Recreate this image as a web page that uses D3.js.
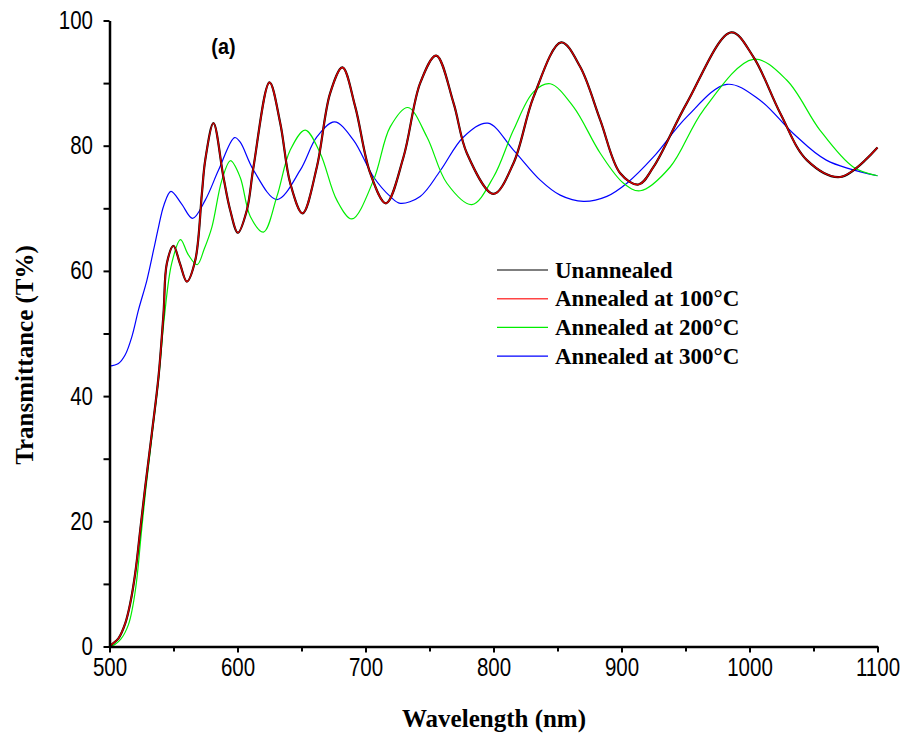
<!DOCTYPE html>
<html>
<head>
<meta charset="utf-8">
<script src="https://cdnjs.cloudflare.com/ajax/libs/d3/7.8.5/d3.min.js"></script>
<style>
    body { margin: 0; background: #fff; }
    svg { display: block; }
</style>
</head>
<body>
<svg width="911" height="737"></svg>
<script>
// readings: wavelength (nm) and transmittance (%)
const wl100 = [500, 501.9, 507, 512.3, 516.2, 520.1, 524, 527.9, 533.1, 538.3, 542.2, 544.8, 550, 555, 560.4, 567, 572.2, 574.8, 581.2, 589, 594.3, 600.3, 607.3, 612.5, 625, 633.4, 641.2, 650.8, 662, 672.4, 682, 692, 703.7, 716, 729.7, 742.7, 755.2, 768.8, 779.2, 800, 815.6, 831.3, 852.9, 867.7, 883.4, 899, 913.3, 925, 951, 985.7, 1003, 1024, 1044.8, 1070.8, 1100];
const t100 = [0, 0.35, 1.3, 3.7, 6.9, 11.7, 18.6, 25.5, 34.1, 43.1, 53.2, 61.2, 64, 61.2, 58.3, 61.7, 72.4, 77.7, 83.6, 75, 69.7, 66.1, 69.7, 76.6, 90.1, 83.6, 74, 69.2, 76.6, 88.4, 92.5, 86.2, 75.6, 70.8, 78.2, 90, 94.4, 86.8, 78.8, 72.3, 77.2, 87.8, 96.5, 92.6, 84.1, 75.6, 73.8, 76.6, 86.8, 98.1, 94.2, 85.2, 77.7, 75, 79.7];
// the unannealed film reads the same as the 100 °C one (hidden under the red trace)
const wlUn = wl100;
const tUn = t100;
const wl200 = [500, 504, 509, 514.8, 518, 521.2, 524.6, 528.3, 533.4, 538.5, 542.8, 548.6, 555.5, 561.5, 568.5, 574, 580, 587.8, 594.5, 602, 610, 620.3, 630.8, 641.2, 652.9, 664.6, 677.6, 689.4, 706.3, 719.3, 733.1, 748, 763.6, 783.1, 800, 815.6, 831.3, 844.3, 862.5, 883.4, 901.6, 914.6, 938, 964, 1003, 1029, 1055, 1081, 1100];
const t200 = [0, 0.3, 1.2, 3.5, 6.2, 10.5, 17.6, 25, 34, 43, 52.5, 61.2, 65, 62.6, 61, 63.5, 67, 74.5, 77.6, 75, 68.7, 66.2, 71.9, 79.3, 82.5, 78.8, 71.3, 68.3, 74.5, 83, 86.1, 81.4, 74, 70.6, 75, 82.5, 88.6, 89.9, 86.2, 78.8, 74, 72.8, 76.6, 85.7, 93.8, 90.5, 82.5, 76.6, 75.2];
const wl300 = [500, 507, 512.3, 517.5, 522.7, 529.2, 534.4, 538.3, 542.5, 548, 556, 564.9, 574.8, 585.2, 597.7, 602, 612.5, 630.8, 649, 662, 675.8, 690.6, 706.3, 719.3, 727.1, 742.7, 758.4, 776.6, 795.6, 815.6, 836.5, 852.1, 870.3, 888.6, 904.2, 925, 951, 982.3, 1008, 1034, 1060, 1100];
const t300 = [44.8, 45.2, 46.6, 49.5, 53.8, 58.5, 63.3, 67, 70.5, 72.7, 70.8, 68.4, 71.3, 76.1, 81.3, 80.6, 76.1, 71.4, 76.1, 81.4, 83.8, 80.9, 75, 71.9, 70.8, 71.9, 76, 81.4, 83.6, 79.3, 74.5, 72.1, 71.1, 71.9, 74, 78.2, 84.6, 89.8, 87.3, 82, 77.7, 75.2];

const seriesNames = ["Unannealed", "Annealed at 100\u00b0C", "Annealed at 200\u00b0C", "Annealed at 300\u00b0C"];
const xTicks = [500, 600, 700, 800, 900, 1000, 1100];
const yTicks = [0, 20, 40, 60, 80, 100];

const svg = d3.select("svg"),
    margin = {top: 20.5, left: 109.5},
    width = 768,
    height = 626,
    g = svg.append("g").attr("transform", `translate(${margin.left},${margin.top})`);

const x = d3.scaleLinear().domain([500, 1100]).range([0, width]),
    y = d3.scaleLinear().domain([0, 100]).range([height, 0]);

const zip = (a, b) => a.map((v, i) => [v, b[i]]);
const series = [
    {data: zip(wlUn, tUn), color: "#000", w: 2.2, legend: "#555"},
    {data: zip(wl100, t100), color: "#d40000", w: 1.4, legend: "#ff4444"},
    {data: zip(wl200, t200), color: "#00ee00", w: 1.2, legend: "#00ee00"},
    {data: zip(wl300, t300), color: "#0000ff", w: 1.2, legend: "#0000ff"}
];

const line = d3.line().x((d) => x(d[0])).y((d) => y(d[1])).curve(d3.curveCatmullRom.alpha(0.5));

// draw order: blue and green below, black then red on top
[3, 2, 0, 1].forEach((i) => {
    g.append("path")
        .datum(series[i].data)
        .attr("fill", "none")
        .attr("stroke", series[i].color)
        .attr("stroke-width", series[i].w)
        .attr("stroke-linejoin", "round")
        .attr("d", line);
});

// minor ticks
g.append("g")
    .attr("transform", `translate(0,${height})`)
    .call(d3.axisBottom(x).tickValues(d3.range(550, 1100, 100)).tickSize(5).tickFormat(""))
    .call((a) => a.select(".domain").remove());
g.append("g")
    .call(d3.axisLeft(y).tickValues(d3.range(10, 100, 20)).tickSize(6).tickFormat(""))
    .call((a) => a.select(".domain").remove());

const xAxis = g.append("g")
    .attr("transform", `translate(0,${height})`)
    .call(d3.axisBottom(x).tickValues(xTicks).tickFormat(d3.format("d")).tickSize(6).tickSizeOuter(0).tickPadding(6));
const yAxis = g.append("g")
    .call(d3.axisLeft(y).tickValues(yTicks).tickFormat(d3.format("d")).tickSize(6).tickSizeOuter(0));

svg.selectAll(".tick line").attr("stroke", "#000").attr("stroke-width", 2);
svg.selectAll(".domain").attr("stroke", "#000").attr("stroke-width", 2.5);
// tick labels in the original are narrow and tall
const squeeze = 0.82;
svg.selectAll(".tick text")
    .attr("font-family", "'Liberation Sans', Arial, sans-serif")
    .attr("font-size", 25)
    .attr("fill", "#000")
    .attr("transform", `scale(${squeeze},1)`);
yAxis.selectAll(".tick text").attr("x", -16.5 / squeeze);

g.append("text")
    .attr("x", 102)
    .attr("y", 34)
    .attr("transform", "translate(10,0) scale(0.9,1)")
    .attr("font-family", "'Liberation Sans', Arial, sans-serif")
    .attr("font-weight", "bold")
    .attr("font-size", 22)
    .text("(a)");

svg.append("text")
    .attr("x", 494)
    .attr("y", 727)
    .attr("text-anchor", "middle")
    .attr("font-family", "'Liberation Serif', 'Times New Roman', serif")
    .attr("font-weight", "bold")
    .attr("font-size", 25)
    .text("Wavelength (nm)");

svg.append("text")
    .attr("transform", "translate(33,355) rotate(-90)")
    .attr("text-anchor", "middle")
    .attr("font-family", "'Liberation Serif', 'Times New Roman', serif")
    .attr("font-weight", "bold")
    .attr("font-size", 25)
    .text("Transmittance (T%)");

const legend = svg.append("g").attr("transform", "translate(497,270)");
seriesNames.forEach((name, i) => {
    const row = legend.append("g").attr("transform", `translate(0,${i * 28.7})`);
    row.append("line")
        .attr("x1", 0).attr("x2", 51)
        .attr("stroke", series[i].legend)
        .attr("stroke-width", 1.4);
    row.append("text")
        .attr("x", 58)
        .attr("y", 7.5)
        .attr("font-family", "'Liberation Serif', 'Times New Roman', serif")
        .attr("font-weight", "bold")
        .attr("font-size", 23)
        .text(name);
});
</script>
</body>
</html>
